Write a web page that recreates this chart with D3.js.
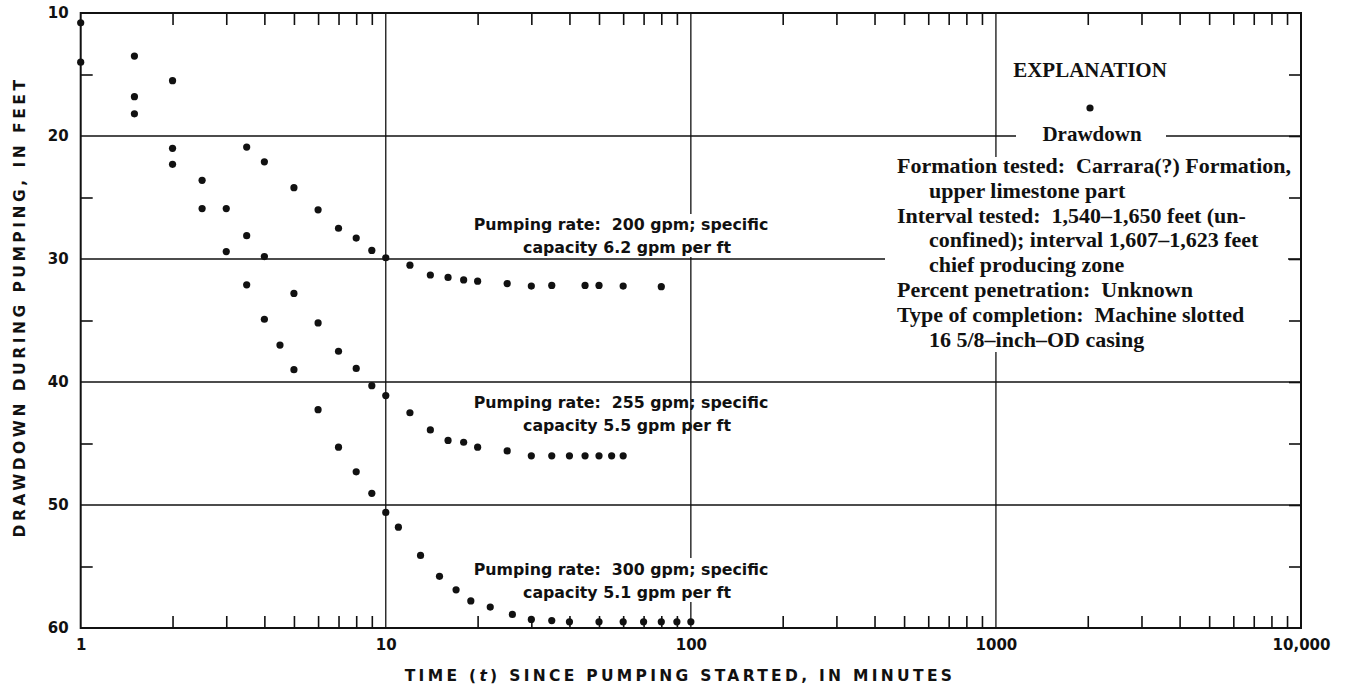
<!DOCTYPE html>
<html><head><meta charset="utf-8">
<script src="https://cdn.jsdelivr.net/npm/d3@7"></script>
<style>
html,body{margin:0;padding:0;background:#fff;}
svg{display:block;}
</style></head>
<body>
<svg id="chart" width="1348" height="687"></svg>
<script>
// ---------- data ----------
const time200 = [1, 1.5, 2, 3.5, 4, 5, 6, 7, 8, 9, 10, 12, 14, 16, 18, 20, 25, 30, 35, 45, 50, 60, 80];
const draw200 = [10.8, 13.5, 15.5, 20.9, 22.1, 24.2, 26.0, 27.5, 28.3, 29.3, 29.9, 30.5, 31.3, 31.5, 31.7, 31.8, 32.0, 32.2, 32.15, 32.15, 32.15, 32.2, 32.25];
const time255 = [1, 1.5, 2, 2.5, 3, 3.5, 4, 5, 6, 7, 8, 9, 10, 12, 14, 16, 18, 20, 25, 30, 35, 40, 45, 50, 55, 60];
const draw255 = [14.0, 16.8, 21.0, 23.6, 25.9, 28.1, 29.8, 32.8, 35.2, 37.5, 38.9, 40.3, 41.1, 42.5, 43.9, 44.75, 44.9, 45.3, 45.6, 46.0, 46.0, 46.0, 46.0, 46.0, 46.0, 46.0];
const time300 = [1.5, 2, 2.5, 3, 3.5, 4, 4.5, 5, 6, 7, 8, 9, 10, 11, 13, 15, 17, 19, 22, 26, 30, 35, 40, 50, 60, 70, 80, 90, 100];
const draw300 = [18.2, 22.3, 25.9, 29.4, 32.1, 34.9, 37.0, 39.0, 42.25, 45.3, 47.3, 49.05, 50.6, 51.8, 54.1, 55.8, 56.9, 57.8, 58.3, 58.9, 59.3, 59.4, 59.5, 59.5, 59.5, 59.5, 59.5, 59.5, 59.5];

const xTickValues = [1, 10, 100, 1000, 10000];
const xTickLabels = ["1", "10", "100", "1000", "10,000"];
const yTickValues = [10, 20, 30, 40, 50, 60];
const yTickLabels = ["10", "20", "30", "40", "50", "60"];
const yMinorValues = [15, 25, 35, 45, 55];

const annotations = [
  ["Pumping rate:  200 gpm; specific", "capacity 6.2 gpm per ft"],
  ["Pumping rate:  255 gpm; specific", "capacity 5.5 gpm per ft"],
  ["Pumping rate:  300 gpm; specific", "capacity 5.1 gpm per ft"]
];
const legendTitle = "EXPLANATION";
const legendItem = "Drawdown";
const notes = [
  ["Formation tested:  Carrara(?) Formation,", 0],
  ["upper limestone part", 1],
  ["Interval tested:  1,540\u20131,650 feet (un-", 0],
  ["confined); interval 1,607\u20131,623 feet", 1],
  ["chief producing zone", 1],
  ["Percent penetration:  Unknown", 0],
  ["Type of completion:  Machine slotted", 0],
  ["16 5/8\u2013inch\u2013OD casing", 1]
];
const xTitleParts = ["TIME (", "t", ") SINCE PUMPING STARTED, IN MINUTES"];
const yTitle = "DRAWDOWN DURING PUMPING, IN FEET";

// ---------- layout ----------
const L = 80.7, R = 1301, T = 13, B = 628;
const svg = d3.select("#chart");
const x = d3.scaleLog().domain([1, 10000]).range([L, R]);
const y = d3.scaleLinear().domain([10, 60]).range([T, B]);

const sans = "'DejaVu Sans', Verdana, sans-serif";
const serif = "'Liberation Serif', 'Times New Roman', serif";
const keep = s => s.replace(/  /g, " \u00a0");

const xMinor = [];
for (let e = 0; e < 4; e++) for (let k = 2; k <= 9; k++) xMinor.push(k * Math.pow(10, e));

const gAx = svg.append("g");
gAx.append("g").selectAll("line").data([10, 100, 1000]).join("line")
  .attr("x1", d => x(d)).attr("x2", d => x(d)).attr("y1", T).attr("y2", B)
  .attr("stroke", "#111").attr("stroke-width", 1.3);
gAx.append("g").selectAll("line").data([20, 30, 40, 50]).join("line")
  .attr("x1", L).attr("x2", R).attr("y1", d => y(d)).attr("y2", d => y(d))
  .attr("stroke", "#111").attr("stroke-width", 1.3);

function styleAxis(g) {
  g.select(".domain").remove();
  g.selectAll(".tick line").attr("stroke", "#111").attr("stroke-width", 1.6);
}
gAx.append("g").attr("transform", `translate(0,${T})`)
  .call(d3.axisTop(x).tickValues(xMinor).tickSize(-12).tickFormat("")).call(styleAxis);
gAx.append("g").attr("transform", `translate(0,${B})`)
  .call(d3.axisBottom(x).tickValues(xMinor).tickSize(-12).tickFormat("")).call(styleAxis);
gAx.append("g").attr("transform", `translate(${L},0)`)
  .call(d3.axisLeft(y).tickValues(yMinorValues).tickSize(-12).tickFormat("")).call(styleAxis);
gAx.append("g").attr("transform", `translate(${R},0)`)
  .call(d3.axisRight(y).tickValues(yMinorValues).tickSize(-12).tickFormat("")).call(styleAxis);

// white knockouts behind texts
const knock = svg.append("g").attr("fill", "#fff");
knock.append("rect").attr("x", 885).attr("y", 157).attr("width", 1288 - 885).attr("height", 352 - 157);
knock.append("rect").attr("x", 1016).attr("y", 126).attr("width", 1166 - 1016).attr("height", 20);
knock.append("rect").attr("x", 470).attr("y", 214).attr("width", 300).attr("height", 43);
knock.append("rect").attr("x", 470).attr("y", 558).attr("width", 300).attr("height", 44);

gAx.append("g").attr("transform", `translate(${R},0)`)
  .call(d3.axisRight(y).tickValues([20, 30, 40, 50]).tickSize(-12).tickFormat("")).call(styleAxis);

svg.append("rect").attr("x", L).attr("y", T).attr("width", R - L).attr("height", B - T)
  .attr("fill", "none").attr("stroke", "#111").attr("stroke-width", 2);

// tick labels
const yAx = svg.append("g").attr("transform", `translate(${L},0)`)
  .call(d3.axisLeft(y).tickValues(yTickValues).tickSize(0).tickPadding(12)
    .tickFormat((d, i) => yTickLabels[i]));
yAx.select(".domain").remove();
yAx.selectAll("text").attr("font-family", sans).attr("font-weight", "bold").attr("font-size", 15).attr("fill", "#111");

const xAx = svg.append("g").attr("transform", `translate(0,${B})`)
  .call(d3.axisBottom(x).tickValues(xTickValues).tickSize(0).tickPadding(11)
    .tickFormat((d, i) => xTickLabels[i]));
xAx.select(".domain").remove();
xAx.selectAll("text").attr("font-family", sans).attr("font-weight", "bold").attr("font-size", 15).attr("fill", "#111");

// axis titles
const xt = svg.append("text").attr("x", 680).attr("y", 681).attr("text-anchor", "middle")
  .attr("font-family", sans).attr("font-weight", "bold").attr("font-size", 15.5)
  .attr("letter-spacing", 3.3).attr("fill", "#111");
xTitleParts.forEach((p, i) => xt.append("tspan").attr("font-style", i === 1 ? "italic" : "normal").text(p));
svg.append("text").attr("transform", `translate(25,307) rotate(-90)`).attr("text-anchor", "middle")
  .attr("font-family", sans).attr("font-weight", "bold").attr("font-size", 15.5)
  .attr("letter-spacing", 3.5).attr("fill", "#111").text(yTitle);

// points
const series = [[time200, draw200], [time255, draw255], [time300, draw300]];
const pts = svg.append("g");
series.forEach(([t, d]) => {
  pts.append("g").selectAll("circle").data(t.map((v, i) => [v, d[i]])).join("circle")
    .attr("cx", p => x(p[0])).attr("cy", p => y(p[1])).attr("r", 3.6).attr("fill", "#111");
});

// annotations
const annBase = [230, 408, 575];
annotations.forEach((lines, i) => {
  const g = svg.append("g").attr("font-family", sans).attr("font-weight", "bold")
    .attr("font-size", 15.8).attr("fill", "#111").attr("text-anchor", "middle");
  g.append("text").attr("x", 621).attr("y", annBase[i]).text(keep(lines[0]));
  g.append("text").attr("x", 627).attr("y", annBase[i] + 23).text(keep(lines[1]));
});

// explanation
svg.append("text").attr("x", 1090).attr("y", 77).attr("text-anchor", "middle")
  .attr("font-family", serif).attr("font-weight", "bold").attr("font-size", 21).attr("fill", "#111").text(legendTitle);
svg.append("circle").attr("cx", 1090).attr("cy", 108).attr("r", 3.6).attr("fill", "#111");
svg.append("text").attr("x", 1092).attr("y", 141).attr("text-anchor", "middle")
  .attr("font-family", serif).attr("font-weight", "bold").attr("font-size", 21).attr("fill", "#111").text(legendItem);
const ng = svg.append("g").attr("font-family", serif).attr("font-weight", "bold").attr("font-size", 22)
  .attr("fill", "#111");
notes.forEach(([txt, ind], i) => {
  ng.append("text").attr("x", ind ? 929 : 897).attr("y", 173 + i * 24.8).text(keep(txt));
});
</script>
</body></html>
